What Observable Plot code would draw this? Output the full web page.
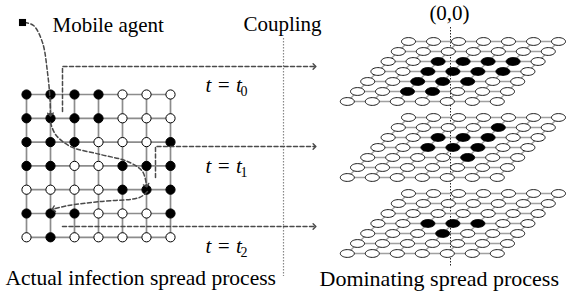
<!DOCTYPE html>
<html><head><meta charset="utf-8">
<script src="https://cdn.jsdelivr.net/npm/d3@7"></script>
<script src="https://cdn.jsdelivr.net/npm/@observablehq/plot@0.6"></script>
<style>body{margin:0;background:#fff} svg{display:block} svg text{font-family:"Liberation Serif","Times New Roman",serif}</style>
</head><body><div id="chart"></div>
<script>
// ---- data ----
// Actual infection spread process (F = infected, O = susceptible), top row first
const leftRows = [
  "FFFFOOO",
  "FFFFOOO",
  "FFFOOOF",
  "FFOOFFF",
  "OOOOFFF",
  "FFFOOOF",
  "OFOOOOO"
];
// Dominating spread process: infected [column, row] nodes of the 3 layers
const domT0 = [[2,2],[3,2],[4,2],[5,2],[2,3],[3,3],[4,3],[5,3],[2,4],[3,4],[4,4],[2,5],[3,5]];
const domT1 = [[4,1],[2,2],[3,2],[4,2],[2,3],[3,3],[4,3],[4,4]];
const domT2 = [[2,3],[3,3],[4,3],[3,4]];
const layers = [domT0, domT1, domT2];
const timeLabels = ["0", "1", "2"];
// mobile agent trajectory (diagram units)
const agentStart = [[22, 22]];
const pathA = [[24,22],[33,25],[42,42],[47,72],[49.5,98],[50,114]];
const pathB = [[50,122],[55,134],[70,146],[100,154],[127,161],[142,171],[146,185]];
const pathC = [[147,191],[139,197],[100,201],[68,205],[53,208.5]];
// coupling arrows
const couple0 = [[62,111],[62,66],[314,66]];
const couple1 = [[155,177],[155,146],[314,146]];
const couple2 = [[62,226],[314,226]];
const labels = [
  {x: 52, y: 25, text: "Mobile agent", anchor: "start", size: 21},
  {x: 282, y: 24, text: "Coupling", anchor: "middle", size: 21},
  {x: 449, y: 13, text: "(0,0)", anchor: "middle", size: 21},
  {x: 5, y: 278, text: "Actual infection spread process", anchor: "start", size: 21.5},
  {x: 319, y: 278, text: "Dominating spread process", anchor: "start", size: 22}
];
const tLabelY = [85, 166, 246];

// ---- layout ----
const LG = {x0: 26, dx: 24, y0: 94, dy: 23.8};
const RG = {x0: 408, dx: 25, skew: 10.2, dy: 10, y0: [41, 117, 193]};
const lx = c => LG.x0 + LG.dx * c, ly = r => LG.y0 + LG.dy * r;
const rx = (k, i, j) => RG.x0 + RG.dx * i - RG.skew * j, ry = (k, i, j) => RG.y0[k] + RG.dy * j;
const N = 7, idx = d3.range(N);

const leftNodes = leftRows.flatMap((row, r) => [...row].map((s, c) => ({x: lx(c), y: ly(r), inf: s === "F"})));
const leftLinks = idx.flatMap(k => [
  {x1: lx(0), y1: ly(k), x2: lx(N-1), y2: ly(k)},
  {x1: lx(k), y1: ly(0), x2: lx(k), y2: ly(N-1)}
]);
const rightNodes = layers.flatMap((inf, k) => idx.flatMap(j => idx.map(i => ({
  x: rx(k, i, j), y: ry(k, i, j), inf: inf.some(([a, b]) => a === i && b === j)
}))));
const rightLinks = layers.flatMap((_, k) => idx.flatMap(m => [
  {x1: rx(k, 0, m), y1: ry(k, 0, m), x2: rx(k, N-1, m), y2: ry(k, N-1, m)},
  {x1: rx(k, m, 0), y1: ry(k, m, 0), x2: rx(k, m, N-1), y2: ry(k, m, N-1)}
]));
// arrow heads: a tiny solid segment along the last direction of each path, with an arrow marker
const heads = [pathA, pathB, pathC, couple0, couple1, couple2].map(p => {
  const [a, b] = p.slice(-2);
  const L = Math.hypot(b[0]-a[0], b[1]-a[1]), s = 1 / L;
  return {x1: b[0] - (b[0]-a[0]) * s, y1: b[1] - (b[1]-a[1]) * s, x2: b[0], y2: b[1]};
});
const tLabels = tLabelY.map((y, k) => ({y, sub: timeLabels[k]}));

const ellipse = {draw(ctx) {
  const a = 7, b = 3.9, q = 0.5523;
  ctx.moveTo(a, 0);
  ctx.bezierCurveTo(a, b*q, a*q, b, 0, b);
  ctx.bezierCurveTo(-a*q, b, -a, b*q, -a, 0);
  ctx.bezierCurveTo(-a, -b*q, -a*q, -b, 0, -b);
  ctx.bezierCurveTo(a*q, -b, a, -b*q, a, 0);
  ctx.closePath();
}};

const font = "Liberation Serif, Times New Roman, serif";
const dash = {stroke: "#4a4a4a", strokeWidth: 1.5, strokeDasharray: "4,2.5"};

const chart = Plot.plot({
  width: 566, height: 291, margin: 0,
  x: {domain: [0, 566], range: [0, 566], axis: null},
  y: {domain: [0, 291], range: [0, 291], axis: null},
  marks: [
    // coupling divider
    Plot.ruleX([283], {y1: 38, y2: 276, stroke: "#888", strokeWidth: 1.2, strokeDasharray: "1.5,1.5"}),
    // (0,0) axis
    Plot.ruleX([450], {y1: 27, y2: 266, stroke: "#222", strokeWidth: 1, strokeDasharray: "1.5,1.5"}),
    // grids
    Plot.link(leftLinks, {x1: "x1", y1: "y1", x2: "x2", y2: "y2", stroke: "#8c8c8c", strokeWidth: 1.7}),
    Plot.link(rightLinks, {x1: "x1", y1: "y1", x2: "x2", y2: "y2", stroke: "#a0a0a0", strokeWidth: 1.3}),
    Plot.dot(leftNodes.filter(d => !d.inf), {x: "x", y: "y", r: 4.6, fill: "white", stroke: "black", strokeWidth: 1}),
    Plot.dot(leftNodes.filter(d => d.inf), {x: "x", y: "y", r: 4.6, fill: "black", stroke: "black", strokeWidth: 1}),
    Plot.dot(rightNodes.filter(d => !d.inf), {x: "x", y: "y", symbol: ellipse, fill: "white", stroke: "black", strokeWidth: 0.9}),
    Plot.dot(rightNodes.filter(d => d.inf), {x: "x", y: "y", symbol: ellipse, fill: "black", stroke: "black", strokeWidth: 0.9}),
    // agent trajectory and coupling arrows
    Plot.line(pathA, {x: d => d[0], y: d => d[1], curve: "catmull-rom", ...dash}),
    Plot.line(pathB, {x: d => d[0], y: d => d[1], curve: "catmull-rom", ...dash}),
    Plot.line(pathC, {x: d => d[0], y: d => d[1], curve: "catmull-rom", ...dash}),
    Plot.line(couple0, {x: d => d[0], y: d => d[1], ...dash}),
    Plot.line(couple1, {x: d => d[0], y: d => d[1], ...dash}),
    Plot.line(couple2, {x: d => d[0], y: d => d[1], ...dash}),
    Plot.link(heads, {x1: "x1", y1: "y1", x2: "x2", y2: "y2", stroke: "#4a4a4a", strokeWidth: 1.4, markerEnd: "arrow"}),
    Plot.dot(agentStart, {x: d => d[0], y: d => d[1], symbol: "square", r: 4, fill: "black"}),
    // labels
    ...labels.map(d => Plot.text([d], {x: "x", y: "y", text: "text", textAnchor: d.anchor, fontFamily: font, fontSize: d.size, fill: "black"})),
    Plot.text(tLabels, {x: 205, y: "y", text: () => "t = t", textAnchor: "start", fontFamily: font, fontStyle: "italic", fontSize: 21, fill: "black"}),
    Plot.text(tLabels, {x: 240, y: d => d.y + 6, text: "sub", textAnchor: "start", fontFamily: font, fontSize: 14, fill: "black"})
  ]
});
document.getElementById("chart").append(chart);
</script>
</body></html>
